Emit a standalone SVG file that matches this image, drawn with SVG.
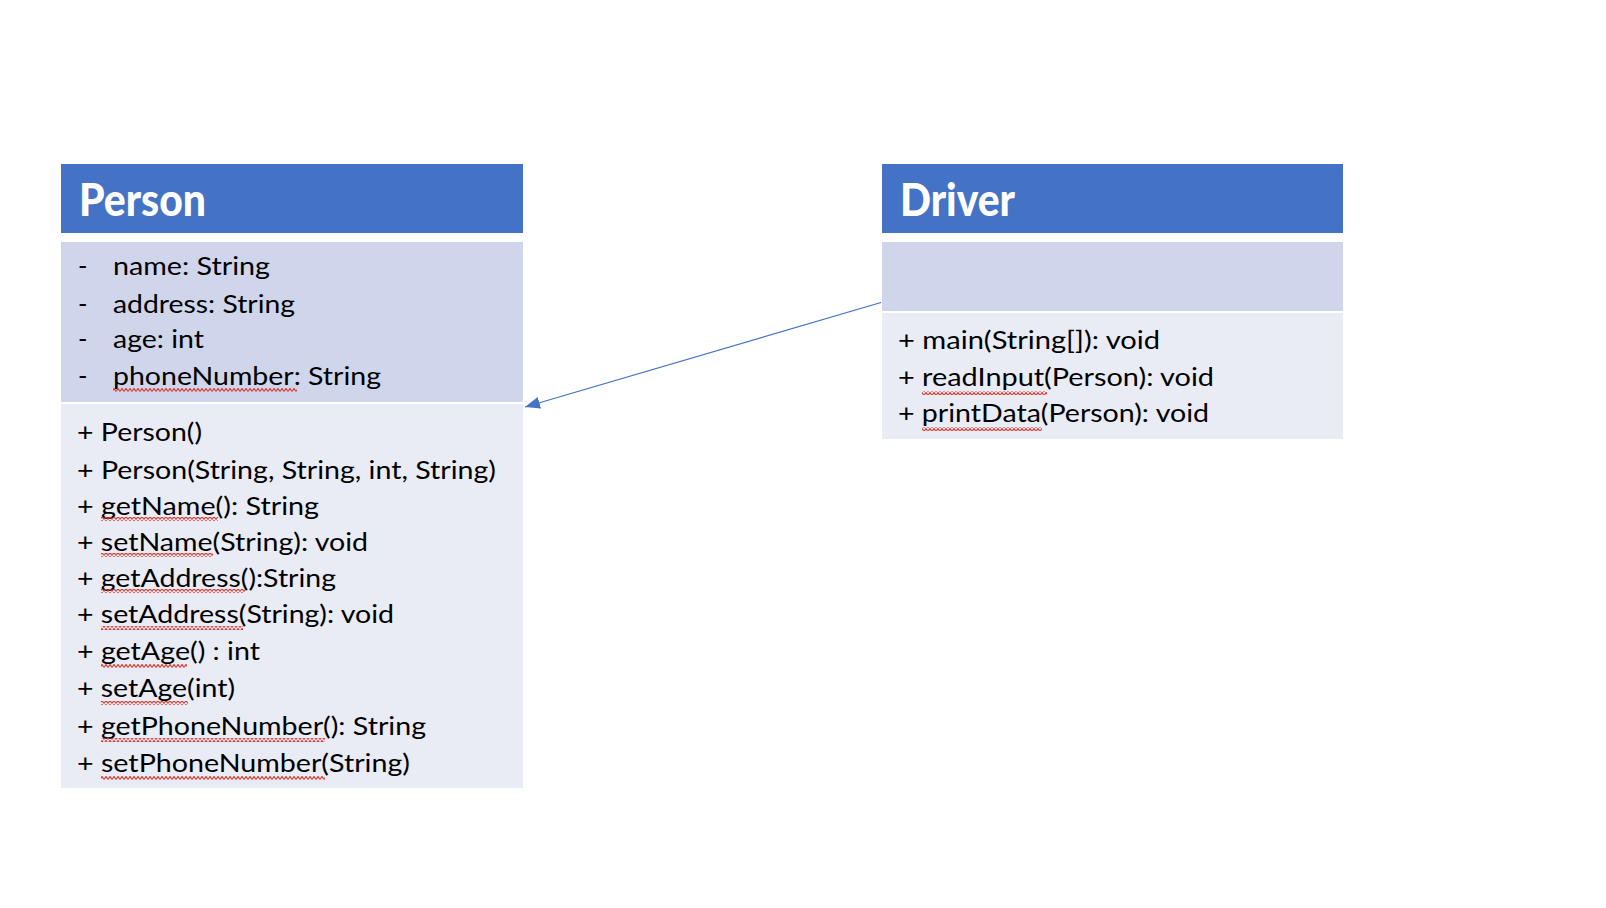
<svg xmlns="http://www.w3.org/2000/svg" width="1606" height="908" viewBox="0 0 1606 908">
<style>
.hdr{fill:#4472C4}
.attr{fill:#CFD5EA}
.meth{fill:#E9EBF5}
.title{font-family:Lato,"Open Sans","Liberation Sans",sans-serif;font-weight:900;font-size:45px;fill:#ffffff}
.t{font-family:Lato,"Open Sans","Liberation Sans",sans-serif;font-size:25.5px;fill:#000000}
.conn{stroke:#4472C4;stroke-width:1.3;fill:none}
.sq{fill:url(#squig)}
</style>
<defs>
<marker id="arr" markerUnits="userSpaceOnUse" markerWidth="16" markerHeight="12" refX="15" refY="6" orient="auto">
<path d="M0,0 L15,6 L0,12 z" fill="#4472C4"/>
</marker>
<pattern id="squig" patternUnits="userSpaceOnUse" width="4" height="4">
<path d="M0,3.5 L2,0.5 L4,3.5" stroke="#E03C31" stroke-width="1.2" fill="none"/>
</pattern>
</defs>
<rect x="0" y="0" width="1606" height="908" fill="#ffffff"/>

<g id="person">
<rect class="hdr" x="61" y="164" width="462" height="69"/>
<rect class="attr" x="61" y="242" width="462" height="160"/>
<rect class="meth" x="61" y="404" width="462" height="384"/>
<text class="title" x="79" y="216" textLength="127" lengthAdjust="spacingAndGlyphs">Person</text>
<text class="t" x="78" y="275">-</text><text class="t" x="113" y="275" textLength="157" lengthAdjust="spacingAndGlyphs">name: String</text>
<text class="t" x="78" y="313">-</text><text class="t" x="113" y="313" textLength="182" lengthAdjust="spacingAndGlyphs">address: String</text>
<text class="t" x="78" y="348">-</text><text class="t" x="113" y="348" textLength="91" lengthAdjust="spacingAndGlyphs">age: int</text>
<text class="t" x="78" y="385">-</text><text class="t" x="113" y="385" textLength="268" lengthAdjust="spacingAndGlyphs">phoneNumber: String</text>
<rect class="sq" x="113" y="388" width="184" height="4"/>
<text class="t" x="77" y="441" textLength="125" lengthAdjust="spacingAndGlyphs">+ Person()</text>
<text class="t" x="77" y="479" textLength="419" lengthAdjust="spacingAndGlyphs">+ Person(String, String, int, String)</text>
<text class="t" x="77" y="515" textLength="242" lengthAdjust="spacingAndGlyphs">+ getName(): String</text>
<text class="t" x="77" y="551" textLength="291" lengthAdjust="spacingAndGlyphs">+ setName(String): void</text>
<text class="t" x="77" y="587" textLength="259" lengthAdjust="spacingAndGlyphs">+ getAddress():String</text>
<text class="t" x="77" y="623" textLength="317" lengthAdjust="spacingAndGlyphs">+ setAddress(String): void</text>
<text class="t" x="77" y="660" textLength="183" lengthAdjust="spacingAndGlyphs">+ getAge() : int</text>
<text class="t" x="77" y="697" textLength="158" lengthAdjust="spacingAndGlyphs">+ setAge(int)</text>
<text class="t" x="77" y="735" textLength="349" lengthAdjust="spacingAndGlyphs">+ getPhoneNumber(): String</text>
<text class="t" x="77" y="772" textLength="333" lengthAdjust="spacingAndGlyphs">+ setPhoneNumber(String)</text>
<rect class="sq" x="101" y="517" width="117" height="4"/>
<rect class="sq" x="101" y="553" width="112" height="4"/>
<rect class="sq" x="101" y="589" width="144" height="4"/>
<rect class="sq" x="101" y="626" width="142" height="4"/>
<rect class="sq" x="101" y="664" width="86" height="4"/>
<rect class="sq" x="101" y="701" width="87" height="4"/>
<rect class="sq" x="101" y="738" width="224" height="4"/>
<rect class="sq" x="101" y="776" width="224" height="4"/>
</g>

<g id="driver">
<rect class="hdr" x="882" y="164" width="461" height="69"/>
<rect class="attr" x="882" y="242" width="461" height="69"/>
<rect class="meth" x="882" y="313" width="461" height="126"/>
<text class="title" x="900" y="216" textLength="115" lengthAdjust="spacingAndGlyphs">Driver</text>
<text class="t" x="898" y="349" textLength="262" lengthAdjust="spacingAndGlyphs">+ main(String[]): void</text>
<text class="t" x="898" y="386" textLength="316" lengthAdjust="spacingAndGlyphs">+ readInput(Person): void</text>
<text class="t" x="898" y="422" textLength="311" lengthAdjust="spacingAndGlyphs">+ printData(Person): void</text>
<rect class="sq" x="922" y="391" width="125" height="4"/>
<rect class="sq" x="922" y="427" width="120" height="4"/>
</g>

<g id="connectors">
<line class="conn" x1="881" y1="302.5" x2="525" y2="407" marker-end="url(#arr)"/>
</g>
</svg>
